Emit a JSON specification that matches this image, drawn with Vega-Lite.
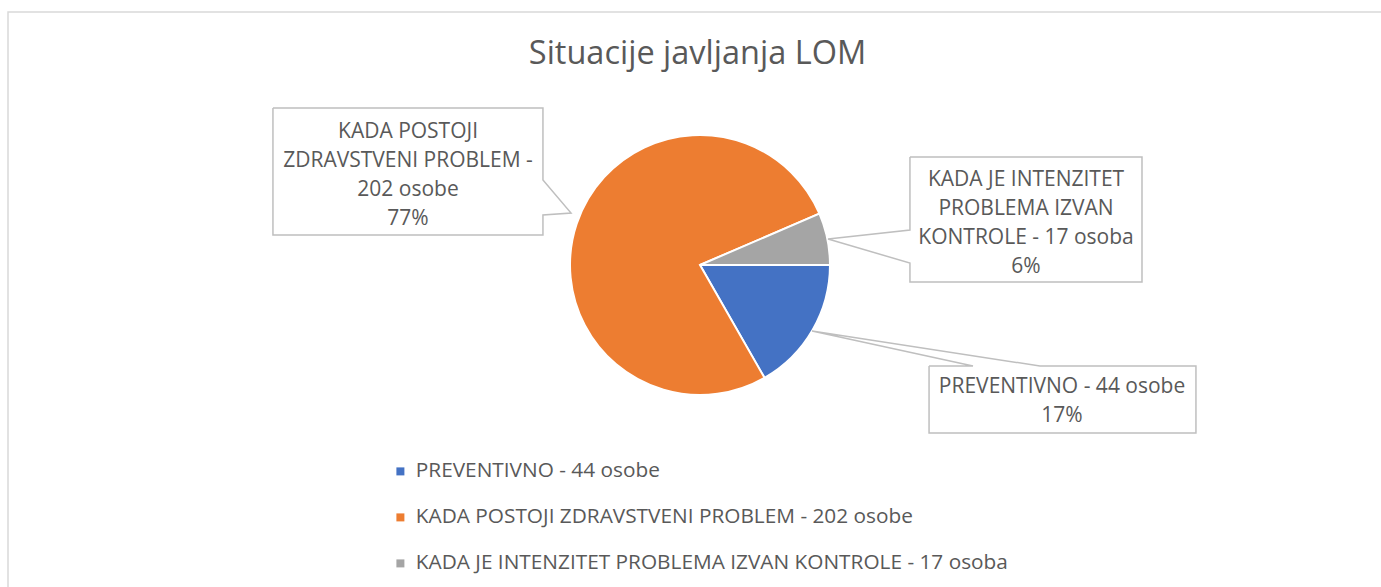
{
  "$schema": "https://vega.github.io/schema/vega-lite/v6.json",
  "width": 1381,
  "height": 587,
  "padding": 0,
  "autosize": {"type": "none"},
  "background": "white",
  "config": {"view": {"stroke": null}, "font": "Open Sans"},
  "title": {"text": "Situacije javljanja LOM", "fontSize": 32.5, "font": "Open Sans", "fontWeight": "normal", "color": "#595959", "anchor": "middle", "offset": -96, "baseline": "alphabetic", "dx": 7},
  "datasets": {
    "slices": [
      {"kategorija": "PREVENTIVNO - 44 osobe", "broj": 44, "redoslijed": 1},
      {"kategorija": "KADA POSTOJI ZDRAVSTVENI PROBLEM - 202 osobe", "broj": 202, "redoslijed": 2},
      {"kategorija": "KADA JE INTENZITET PROBLEMA IZVAN KONTROLE - 17 osoba", "broj": 17, "redoslijed": 3}
    ],
    "callouts": [
      {"id": "b", "k": 1, "u": -328.5, "v": 120.8},
      {"id": "b", "k": 2, "u": -120.8, "v": 120.8},
      {"id": "b", "k": 3, "u": -120.8, "v": 65.4},
      {"id": "b", "k": 4, "u": -99.2, "v": 40.0},
      {"id": "b", "k": 5, "u": -120.8, "v": 38.5},
      {"id": "b", "k": 6, "u": -120.8, "v": 23.1},
      {"id": "b", "k": 7, "u": -328.5, "v": 23.1},
      {"id": "b", "k": 8, "u": -328.5, "v": 120.8},
      {"id": "c", "k": 1, "u": 161.5, "v": 83.1},
      {"id": "c", "k": 2, "u": 340.0, "v": 83.1},
      {"id": "c", "k": 3, "u": 340.0, "v": -13.1},
      {"id": "c", "k": 4, "u": 161.5, "v": -13.1},
      {"id": "c", "k": 5, "u": 161.5, "v": 1.5},
      {"id": "c", "k": 6, "u": 98.5, "v": 20.0},
      {"id": "c", "k": 7, "u": 161.5, "v": 26.9},
      {"id": "c", "k": 8, "u": 161.5, "v": 83.1},
      {"id": "a", "k": 1, "u": 176.2, "v": -77.7},
      {"id": "a", "k": 2, "u": 210.0, "v": -77.7},
      {"id": "a", "k": 3, "u": 86.2, "v": -50.8},
      {"id": "a", "k": 4, "u": 261.5, "v": -77.7},
      {"id": "a", "k": 5, "u": 381.5, "v": -77.7},
      {"id": "a", "k": 6, "u": 381.5, "v": -129.2},
      {"id": "a", "k": 7, "u": 176.2, "v": -129.2},
      {"id": "a", "k": 8, "u": 176.2, "v": -77.7}
    ],
    "labels": [
      {"id": "b", "tekst": "KADA POSTOJI\nZDRAVSTVENI PROBLEM -\n202 osobe\n77%", "u": -224.6, "v": 102.3},
      {"id": "c", "tekst": "KADA JE INTENZITET\nPROBLEMA IZVAN\nKONTROLE - 17 osoba\n6%", "u": 250.8, "v": 65.4},
      {"id": "a", "tekst": "PREVENTIVNO - 44 osobe\n17%", "u": 278.5, "v": -93.8}
    ],
    "frame": [
      {"u": -532.3, "v": 194.6, "u2": 530.8, "v2": -257.7}
    ]
  },
  "layer": [
    {
      "data": {"name": "frame"},
      "mark": {"type": "rect", "filled": false, "stroke": "#D9D9D9", "strokeWidth": 1.5},
      "encoding": {
        "x": {"field": "u", "type": "quantitative", "scale": {"domain": [-538.46, 523.85], "nice": false, "zero": false}, "axis": null},
        "x2": {"field": "u2"},
        "y": {"field": "v", "type": "quantitative", "scale": {"domain": [-247.69, 203.85], "nice": false, "zero": false}, "axis": null},
        "y2": {"field": "v2"}
      }
    },
    {
      "data": {"name": "slices"},
      "mark": {"type": "arc", "outerRadius": 130, "stroke": "white", "strokeWidth": 2},
      "encoding": {
        "theta": {"field": "broj", "type": "quantitative", "stack": true, "scale": {"range": [1.5708, 7.854]}},
        "order": {"field": "redoslijed", "type": "quantitative"},
        "color": {
          "field": "kategorija",
          "type": "nominal",
          "scale": {
            "domain": ["PREVENTIVNO - 44 osobe", "KADA POSTOJI ZDRAVSTVENI PROBLEM - 202 osobe", "KADA JE INTENZITET PROBLEMA IZVAN KONTROLE - 17 osoba"],
            "range": ["#4472C4", "#ED7D31", "#A5A5A5"]
          },
          "legend": {
            "orient": "none", "legendX": 390, "legendY": 461, "direction": "vertical", "title": null,
            "symbolType": "square", "symbolSize": 64, "symbolStrokeWidth": 0,
            "labelFontSize": 20.8, "labelFont": "Open Sans", "labelColor": "#595959",
            "rowPadding": 24, "labelOffset": 5, "labelLimit": 800
          }
        },
        "x": {"datum": 0, "type": "quantitative", "scale": {"domain": [-538.46, 523.85], "nice": false, "zero": false}, "axis": null},
        "y": {"datum": 0, "type": "quantitative", "scale": {"domain": [-247.69, 203.85], "nice": false, "zero": false}, "axis": null}
      }
    },
    {
      "data": {"name": "callouts"},
      "mark": {"type": "line", "stroke": "#BFBFBF", "strokeWidth": 1.5},
      "encoding": {
        "x": {"field": "u", "type": "quantitative", "scale": {"domain": [-538.46, 523.85], "nice": false, "zero": false}, "axis": null},
        "y": {"field": "v", "type": "quantitative", "scale": {"domain": [-247.69, 203.85], "nice": false, "zero": false}, "axis": null},
        "detail": {"field": "id", "type": "nominal"},
        "order": {"field": "k", "type": "quantitative"}
      }
    },
    {
      "data": {"name": "labels"},
      "mark": {"type": "text", "lineBreak": "\n", "fontSize": 21, "lineHeight": 29, "align": "center", "baseline": "middle", "color": "#595959", "font": "Open Sans"},
      "encoding": {
        "x": {"field": "u", "type": "quantitative", "scale": {"domain": [-538.46, 523.85], "nice": false, "zero": false}, "axis": null},
        "y": {"field": "v", "type": "quantitative", "scale": {"domain": [-247.69, 203.85], "nice": false, "zero": false}, "axis": null},
        "text": {"field": "tekst", "type": "nominal"}
      }
    }
  ]
}
